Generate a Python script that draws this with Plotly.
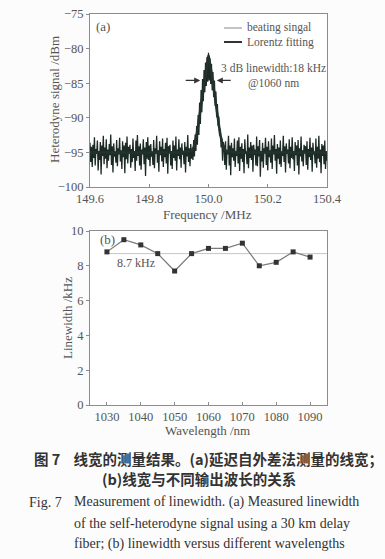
import plotly.graph_objects as go

# ---------------- data ----------------
# (a) beating signal, sampled every STEP MHz starting at START MHz
START_MHZ = 149.6
STEP_MHZ = 0.0025
signal_left = [
    -93.6,-96.4,-94.2,-97.1,-93.9,-95.8,-92.8,-96.9,-94.5,-95.2,
    -93.3,-97.6,-94.8,-96.1,-93.5,-98.2,-94.0,-95.5,-92.6,-96.7,
    -94.3,-95.9,-93.1,-97.3,-94.6,-96.2,-93.8,-95.4,-92.4,-96.8,
    -94.1,-97.9,-93.7,-95.6,-94.9,-96.5,-93.2,-97.0,-94.4,-95.3,
    -92.9,-96.3,-94.7,-97.4,-93.4,-95.7,-94.0,-98.0,-93.6,-96.0,
    -92.7,-96.6,-94.2,-95.1,-93.9,-97.2,-94.5,-96.4,-93.0,-95.8,
    -94.8,-97.7,-93.3,-96.2,-92.5,-95.5,-94.1,-96.9,-93.7,-97.5,
    -94.6,-95.3,-93.1,-96.7,-94.3,-98.4,-93.5,-95.9,-92.8,-96.1,
    -94.0,-97.0,-93.8,-95.6,-94.9,-96.8,-93.2,-97.3,-94.4,-95.2,
    -92.6,-96.5,-94.7,-97.8,-93.4,-95.4,-94.2,-96.3,-93.0,-97.1,
    -94.5,-95.7,-93.6,-96.6,-92.9,-98.1,-94.1,-95.0,-93.9,-96.9,
    -94.8,-97.4,-93.3,-95.8,-94.0,-96.2,-92.7,-97.6,-94.6,-95.5,
    -93.1,-96.0,-94.3,-97.2,-93.7,-95.3,-94.9,-96.7,-93.5,-97.9,
    -94.2,-95.6,-92.5,-96.4,-94.4,-97.0,-93.8,-95.9,-94.7,-96.1,
]
signal_peak = [
    -93.2,-95.6,-92.4,-94.8,-91.2,-93.9,-89.6,-92.5,-87.8,-90.9,
    -86.0,-89.2,-84.4,-87.6,-83.1,-86.3,-82.0,-85.4,-81.2,-84.8,
    -80.6,-84.6,-81.4,-85.1,-82.2,-86.0,-83.4,-87.0,-84.6,-88.3,
    -86.2,-89.9,-88.0,-91.2,-89.8,-92.6,-91.6,-94.3,-93.0,-96.2,
    -93.5,
]
signal_right = [
    -94.1,-96.8,-93.4,-97.5,-94.7,-95.3,-92.6,-96.9,-94.0,-98.3,
    -93.6,-95.7,-94.4,-96.2,-93.0,-97.1,-94.8,-95.5,-93.3,-96.6,
    -92.8,-97.7,-94.2,-95.9,-93.7,-96.4,-94.5,-98.0,-93.1,-95.2,
    -94.9,-96.7,-92.4,-97.3,-94.3,-95.8,-93.5,-96.1,-94.0,-97.8,
    -93.9,-95.4,-94.6,-96.9,-92.7,-97.0,-94.1,-95.6,-93.2,-98.5,
    -94.8,-96.3,-93.6,-97.2,-94.4,-95.1,-92.9,-96.8,-94.2,-97.6,
    -93.4,-95.7,-94.7,-96.5,-93.0,-97.4,-94.0,-95.3,-92.5,-96.2,
    -94.5,-98.1,-93.8,-95.9,-94.3,-96.7,-93.3,-97.1,-94.9,-95.5,
    -92.6,-96.4,-94.1,-97.9,-93.7,-95.2,-94.6,-96.6,-93.1,-97.3,
    -94.2,-95.8,-92.8,-96.0,-94.8,-97.7,-93.5,-95.4,-94.0,-96.9,
    -93.2,-98.2,-94.4,-95.6,-92.7,-96.3,-94.7,-97.0,-93.9,-95.1,
    -94.1,-96.8,-93.4,-97.5,-94.5,-95.7,-92.9,-96.1,-94.3,-97.8,
    -93.6,-95.3,-94.9,-96.6,-93.0,-97.2,-94.2,-95.9,-92.6,-96.4,
    -94.6,-98.0,-93.8,-95.5,-94.0,-96.7,-93.3,-97.4,-94.8,-96.2,
]
signal_dbm = signal_left + signal_peak + signal_right
signal_freq = [round(START_MHZ + STEP_MHZ * i, 4) for i in range(len(signal_dbm))]

# (a) Lorentz fitting curve
fit_freq = [149.6, 149.9, 149.94, 149.95, 149.96, 149.97, 149.98, 149.99, 150.0,
            150.01, 150.02, 150.03, 150.04, 150.05, 150.06, 150.1, 150.4]
fit_dbm = [-95.0, -95.0, -94.8, -94.3, -92.5, -89.5, -86.5, -83.5, -81.0,
           -83.5, -86.5, -89.5, -92.5, -94.3, -94.8, -95.0, -95.0]

# (b) linewidth vs wavelength
wavelength_nm = [1030, 1035, 1040, 1045, 1050, 1055, 1060, 1065, 1070, 1075, 1080, 1085, 1090]
linewidth_khz = [8.8, 9.5, 9.2, 8.7, 7.7, 8.7, 9.0, 9.0, 9.3, 8.0, 8.2, 8.8, 8.5]
mean_khz = 8.7

freq_ticks = [149.6, 149.8, 150.0, 150.2, 150.4]
freq_ticklabels = ["149.6", "149.8", "150.0", "150.2", "150.4"]
dbm_ticks = [-100, -95, -90, -85, -80, -75]
wl_ticks = [1030, 1040, 1050, 1060, 1070, 1080, 1090]
lw_ticks = [0, 2, 4, 6, 8, 10]

# ---------------- style ----------------
W, H = 385, 559
SERIF = "Liberation Serif"
TXT = "#555555"
AXC = "#8c8c8c"
TRACE = "#1d2b27"
NB = "\u00a0"

def px_x(p):
    return p / W

def px_y(p):
    return 1 - p / H

fig = go.Figure()

fig.add_trace(go.Scatter(
    x=signal_freq, y=signal_dbm, mode="lines", name="beating singal",
    line=dict(color=TRACE, width=1.3), xaxis="x", yaxis="y"))
fig.add_trace(go.Scatter(
    x=fit_freq, y=fit_dbm, mode="lines", name="Lorentz fitting",
    line=dict(color="#24322e", width=2.5), xaxis="x", yaxis="y"))

fig.add_trace(go.Scatter(
    x=[1030, 1095], y=[mean_khz, mean_khz], mode="lines",
    line=dict(color="#c4c4c4", width=1), xaxis="x2", yaxis="y2"))
fig.add_trace(go.Scatter(
    x=wavelength_nm, y=linewidth_khz, mode="lines+markers",
    line=dict(color="#7a7a7a", width=1.2),
    marker=dict(symbol="square", size=5, color="#333333"),
    xaxis="x2", yaxis="y2"))

axis_common = dict(showline=True, linecolor=AXC, linewidth=1, mirror=True,
                   showgrid=False, zeroline=False,
                   tickfont=dict(family=SERIF, size=12.5, color=TXT),
                   tickcolor=AXC, ticklen=3)

xdom = [px_x(90), px_x(327)]
fig.update_layout(
    width=W, height=H,
    margin=dict(l=0, r=0, t=0, b=0, autoexpand=False),
    paper_bgcolor="#fcfcfc", plot_bgcolor="#ffffff",
    showlegend=False,
    xaxis=dict(domain=xdom, anchor="y", range=[149.6, 150.4],
               tickvals=freq_ticks, ticktext=freq_ticklabels, ticks="inside",
               **axis_common),
    yaxis=dict(domain=[px_y(187), px_y(14)], anchor="x", range=[-100, -75],
               tickvals=dbm_ticks, ticks="outside", **axis_common),
    xaxis2=dict(domain=xdom, anchor="y2", range=[1025, 1095],
                tickvals=wl_ticks, ticks="inside", **axis_common),
    yaxis2=dict(domain=[px_y(405), px_y(231)], anchor="x2", range=[0, 10],
                tickvals=lw_ticks, ticks="outside", **axis_common),
)

def ann(text, x, y, size=13, xanchor="center", yanchor="middle", angle=0,
        family=SERIF, color=TXT, xref="paper", yref="paper", align="center"):
    fig.add_annotation(text=text, x=x, y=y, xref=xref, yref=yref,
                       xanchor=xanchor, yanchor=yanchor, textangle=angle,
                       align=align, showarrow=False,
                       font=dict(family=family, size=size, color=color))

# legend (drawn by hand to match the compact spacing)
fig.add_shape(type="line", xref="paper", yref="paper",
              x0=px_x(224), x1=px_x(242), y0=px_y(28), y1=px_y(28),
              line=dict(color="#8a8a8a", width=1))
fig.add_shape(type="line", xref="paper", yref="paper",
              x0=px_x(224), x1=px_x(242), y0=px_y(42), y1=px_y(42),
              line=dict(color="#333333", width=2))
ann("beating singal<br>Lorentz fitting", px_x(245), px_y(35), size=11.5,
    xanchor="left", align="left")

# axis titles
ann("Frequency /MHz", px_x(208), px_y(215))
ann("Heterodyne signal /dBm", px_x(54), px_y(100), angle=-90)
ann("Wavelength /nm", px_x(208), px_y(430))
ann("Linewidth /kHz", px_x(67), px_y(318), angle=-90)

# panel labels and in-plot text
ann("(a)", 149.615, -76.8, xanchor="left", xref="x", yref="y")
ann("3 dB linewidth:18 kHz<br>@1060 nm", 150.218, -83.9, size=11.5,
    xref="x", yref="y")
ann("(b)", 1027.3, 9.5, xanchor="left", xref="x2", yref="y2")
ann("8.7 kHz", 1032.5, 8.15, size=12, xanchor="left", xref="x2", yref="y2")

# 3 dB width arrows
fig.add_annotation(x=149.972, y=-84.6, ax=149.918, ay=-84.6, xref="x", yref="y",
                   axref="x", ayref="y", text="", showarrow=True, arrowhead=2,
                   arrowsize=1, arrowwidth=1.2, arrowcolor="#333333")
fig.add_annotation(x=150.028, y=-84.6, ax=150.08, ay=-84.6, xref="x", yref="y",
                   axref="x", ayref="y", text="", showarrow=True, arrowhead=2,
                   arrowsize=1, arrowwidth=1.2, arrowcolor="#333333")

# caption
CJK = "Noto Sans CJK SC"
ann("<b>图" + NB + "7" + NB * 4 + "线宽的测量结果。(a)延迟自外差法测量的线宽；</b>",
    px_x(32), px_y(458), size=14.5, xanchor="left", family=CJK, color="#333333")
ann("<b>(b)线宽与不同输出波长的关系</b>", px_x(100), px_y(478),
    size=14.5, xanchor="left", family=CJK, color="#333333")
ann("Fig. 7", px_x(27), px_y(502), size=14, xanchor="left", color="#333333")
ann("Measurement of linewidth. (a) Measured linewidth", px_x(72), px_y(502),
    size=14, xanchor="left", color="#333333")
ann("of the self-heterodyne signal using a 30 km delay", px_x(72), px_y(523),
    size=14, xanchor="left", color="#333333")
ann("fiber; (b) linewidth versus different wavelengths", px_x(72), px_y(544),
    size=14, xanchor="left", color="#333333")

fig.write_html("out.html", config={"displayModeBar": False},
               post_script="document.body.style.margin='0';document.body.style.padding='0';")
